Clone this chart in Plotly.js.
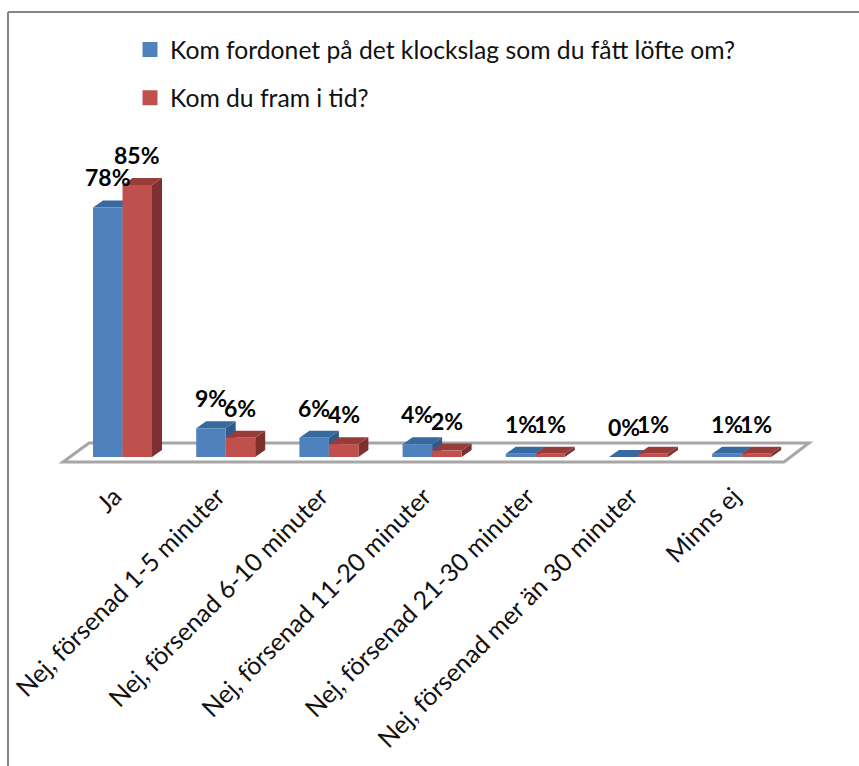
<!DOCTYPE html>
<html><head><meta charset="utf-8">
<script src="https://cdn.plot.ly/plotly-3.0.1.min.js"></script>
<style>html,body{margin:0;padding:0;background:#fff}</style></head>
<body><div id="chart" style="width:859px;height:766px"></div>
<script>
const categories = ["Ja","Nej, försenad 1-5 minuter","Nej, försenad 6-10 minuter","Nej, försenad 11-20 minuter","Nej, försenad 21-30 minuter","Nej, försenad mer än 30 minuter","Minns ej"];
const seriesNames = ["Kom fordonet på det klockslag som du fått löfte om?","Kom du fram i tid?"];
const blueValues = [78,9,6,4,1,0,1];
const redValues = [85,6,4,2,1,1,1];
const W=859,H=766;
const pxPerCat=103.2, pxPerPct=3.2, depthX=10, depthY=7, barPx=29.5;
const dx=depthX/pxPerCat, dy=depthY/pxPerPct, bw=barPx/pxPerCat;
const idx=categories.map((_,i)=>i);
const font="Lato, 'Open Sans', sans-serif";
function faces(vals,off,top,side){
  const out=[];
  vals.forEach((v,i)=>{
    const l=i+off-bw/2, r=i+off+bw/2;
    out.push({type:'path',layer:'below',xref:'x',yref:'y',fillcolor:side,line:{width:0},
      path:`M${r},0L${r+dx},${dy}L${r+dx},${v+dy}L${r},${v}Z`});
    out.push({type:'path',layer:'below',xref:'x',yref:'y',fillcolor:top,line:{width:0},
      path:`M${l},${v}L${l+dx},${v+dy}L${r+dx},${v+dy}L${r},${v}Z`});
  });
  return out;
}
const px=x=>x/W, py=y=>1-y/H;
const floor={type:'path',layer:'below',xref:'paper',yref:'paper',line:{color:'#a6a6a6',width:3},fillcolor:'rgba(255,255,255,0)',
  path:`M${px(63)},${py(462)}L${px(89)},${py(443)}L${px(809)},${py(443)}L${px(784)},${py(462)}Z`};
const frame=[
 {type:'line',xref:'paper',yref:'paper',x0:px(8),x1:px(8),y0:py(12),y1:0,line:{color:'#868686',width:2}},
 {type:'line',xref:'paper',yref:'paper',x0:px(8),x1:1,y0:py(12),y1:py(12),line:{color:'#868686',width:2}}
];
const labels=[];
[[blueValues,-bw/2],[redValues,bw/2]].forEach(([vals,off])=>vals.forEach((v,i)=>labels.push({
  x:i+off,y:v,xref:'x',yref:'y',text:v+'%',showarrow:false,yshift:30,xanchor:'center',yanchor:'middle',
  font:{family:font,size:23,color:'#000',weight:700}})));
const traces=[
 {type:'bar',name:seriesNames[0],x:[null],y:[null],marker:{color:'#4f81bd',line:{color:'#4f81bd',width:3}},legendgroup:'a'},
 {type:'bar',name:seriesNames[1],x:[null],y:[null],marker:{color:'#c0504d',line:{color:'#c0504d',width:3}},legendgroup:'b'},
 {type:'bar',x:idx,y:blueValues,width:bw,offset:-bw,marker:{color:'#4f81bd'},showlegend:false,legendgroup:'a',hoverinfo:'y'},
 {type:'bar',x:idx,y:redValues,width:bw,offset:0,marker:{color:'#c0504d'},showlegend:false,legendgroup:'b',hoverinfo:'y'}
];
const layout={
 width:W,height:H,margin:{l:0,r:0,t:0,b:0},paper_bgcolor:'#fff',plot_bgcolor:'rgba(0,0,0,0)',
 barmode:'overlay',
 font:{family:font,color:'#111'},
 xaxis:{domain:[70.9/W,793.3/W],range:[-0.5,6.5],tickmode:'array',tickvals:idx,ticktext:categories,tickangle:-45,
   showgrid:false,zeroline:false,showline:false,ticks:'',ticklabelstandoff:19,ticklabelshift:-8,tickfont:{family:font,size:25,color:'#111'},automargin:false},
 yaxis:{domain:[309/H,629/H],range:[0,100],visible:false,showgrid:false,zeroline:false},
 legend:{x:px(135.5),y:py(27),xanchor:'left',yanchor:'top',traceorder:'grouped',tracegroupgap:13,indentation:-5.5,font:{family:font,size:24.7,color:'#111'},bgcolor:'rgba(0,0,0,0)'},
 showlegend:true,
 shapes:[floor,...faces(blueValues,-bw/2,'#386a9f','#2e5a8c'),...faces(redValues,bw/2,'#983c3a','#7d302e'),...frame],
 annotations:labels
};
Plotly.newPlot('chart',traces,layout,{displayModeBar:false,staticPlot:true});
</script></body></html>
